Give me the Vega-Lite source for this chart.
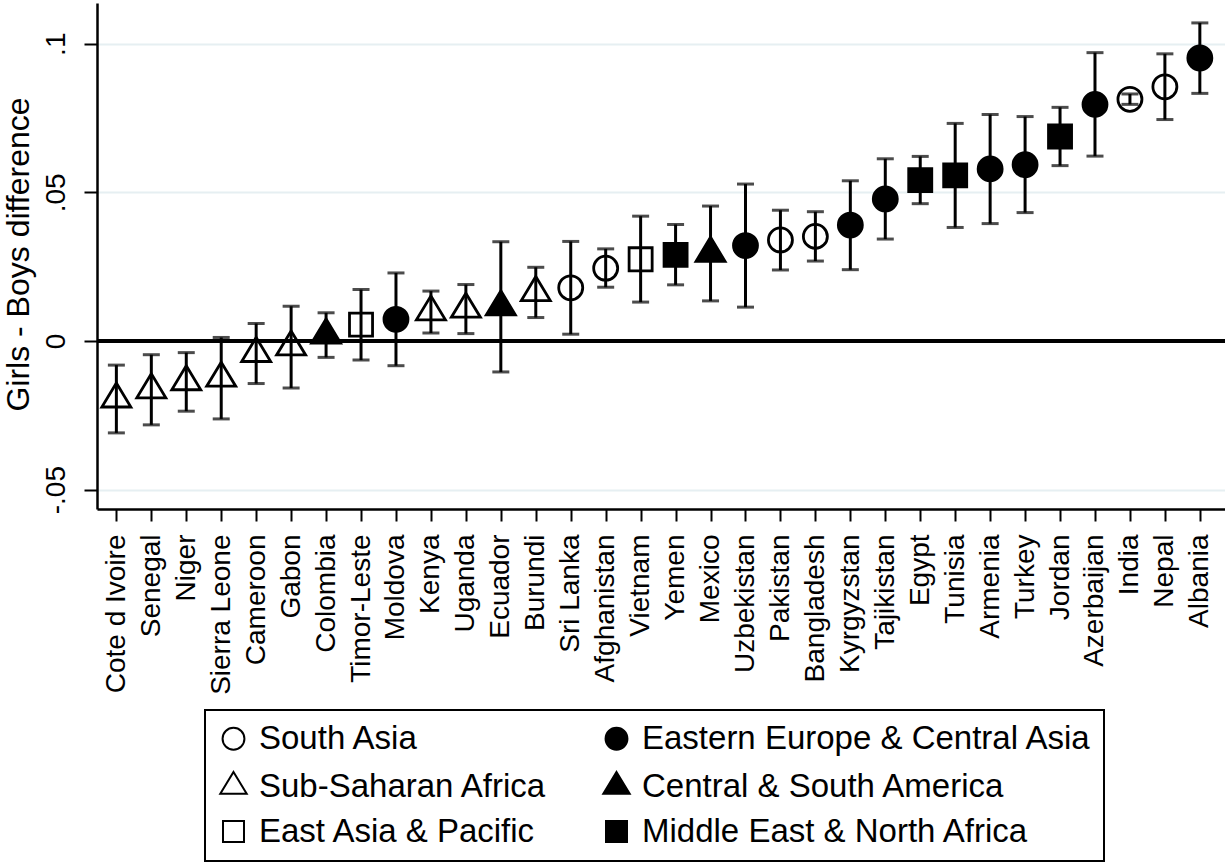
{
  "$schema": "https://vega.github.io/schema/vega-lite/v6.json",
  "autosize": {"type": "none"},
  "padding": {"left": 97, "top": 3, "right": 0, "bottom": 354},
  "width": 1128,
  "height": 506,
  "background": "white",
  "config": {
    "font": "Liberation Sans",
    "view": {"stroke": null},
    "axis": {
      "domainColor": "black",
      "domainWidth": 2.5,
      "tickColor": "black",
      "tickWidth": 2,
      "labelColor": "black",
      "titleColor": "black",
      "labelFont": "Liberation Sans",
      "titleFont": "Liberation Sans",
      "titleFontWeight": "normal"
    }
  },
  "data": {
    "values": [
      {"country": "Cote d Ivoire", "region": "Sub-Saharan Africa", "est": -0.0195, "lo": -0.0309, "hi": -0.0081},
      {"country": "Senegal", "region": "Sub-Saharan Africa", "est": -0.0164, "lo": -0.0282, "hi": -0.0046},
      {"country": "Niger", "region": "Sub-Saharan Africa", "est": -0.0137, "lo": -0.0236, "hi": -0.0039},
      {"country": "Sierra Leone", "region": "Sub-Saharan Africa", "est": -0.0125, "lo": -0.0262, "hi": 0.0012},
      {"country": "Cameroon", "region": "Sub-Saharan Africa", "est": -0.0042, "lo": -0.0143, "hi": 0.0059},
      {"country": "Gabon", "region": "Sub-Saharan Africa", "est": -0.0020, "lo": -0.0158, "hi": 0.0117},
      {"country": "Colombia", "region": "Central & South America", "est": 0.0020, "lo": -0.0055, "hi": 0.0095},
      {"country": "Timor-Leste", "region": "East Asia & Pacific", "est": 0.0055, "lo": -0.0064, "hi": 0.0173},
      {"country": "Moldova", "region": "Eastern Europe & Central Asia", "est": 0.0073, "lo": -0.0083, "hi": 0.0229},
      {"country": "Kenya", "region": "Sub-Saharan Africa", "est": 0.0098, "lo": 0.0027, "hi": 0.0168},
      {"country": "Uganda", "region": "Sub-Saharan Africa", "est": 0.0107, "lo": 0.0025, "hi": 0.0190},
      {"country": "Ecuador", "region": "Central & South America", "est": 0.0115, "lo": -0.0104, "hi": 0.0334},
      {"country": "Burundi", "region": "Sub-Saharan Africa", "est": 0.0163, "lo": 0.0079, "hi": 0.0248},
      {"country": "Sri Lanka", "region": "South Asia", "est": 0.0179, "lo": 0.0023, "hi": 0.0335},
      {"country": "Afghanistan", "region": "South Asia", "est": 0.0245, "lo": 0.0181, "hi": 0.0310},
      {"country": "Vietnam", "region": "East Asia & Pacific", "est": 0.0275, "lo": 0.0131, "hi": 0.0420},
      {"country": "Yemen", "region": "Middle East & North Africa", "est": 0.0290, "lo": 0.0189, "hi": 0.0392},
      {"country": "Mexico", "region": "Central & South America", "est": 0.0295, "lo": 0.0135, "hi": 0.0454},
      {"country": "Uzbekistan", "region": "Eastern Europe & Central Asia", "est": 0.0321, "lo": 0.0114, "hi": 0.0528},
      {"country": "Pakistan", "region": "South Asia", "est": 0.0340, "lo": 0.0239, "hi": 0.0440},
      {"country": "Bangladesh", "region": "South Asia", "est": 0.0352, "lo": 0.0269, "hi": 0.0435},
      {"country": "Kyrgyzstan", "region": "Eastern Europe & Central Asia", "est": 0.0390, "lo": 0.0240, "hi": 0.0539},
      {"country": "Tajikistan", "region": "Eastern Europe & Central Asia", "est": 0.0478, "lo": 0.0343, "hi": 0.0613},
      {"country": "Egypt", "region": "Middle East & North Africa", "est": 0.0541, "lo": 0.0462, "hi": 0.0621},
      {"country": "Tunisia", "region": "Middle East & North Africa", "est": 0.0557, "lo": 0.0382, "hi": 0.0732},
      {"country": "Armenia", "region": "Eastern Europe & Central Asia", "est": 0.0579, "lo": 0.0395, "hi": 0.0762},
      {"country": "Turkey", "region": "Eastern Europe & Central Asia", "est": 0.0593, "lo": 0.0432, "hi": 0.0755},
      {"country": "Jordan", "region": "Middle East & North Africa", "est": 0.0688, "lo": 0.0590, "hi": 0.0786},
      {"country": "Azerbaijan", "region": "Eastern Europe & Central Asia", "est": 0.0796, "lo": 0.0622, "hi": 0.0970},
      {"country": "India", "region": "South Asia", "est": 0.0813, "lo": 0.0796, "hi": 0.0831},
      {"country": "Nepal", "region": "South Asia", "est": 0.0855, "lo": 0.0745, "hi": 0.0966},
      {"country": "Albania", "region": "Eastern Europe & Central Asia", "est": 0.0952, "lo": 0.0833, "hi": 0.1070}
    ]
  },
  "encoding": {
    "x": {
      "field": "country",
      "type": "nominal",
      "sort": null,
      "scale": {"type": "point", "padding": 0.637, "align": 0.435},
      "axis": {
        "title": null,
        "labelAngle": -90,
        "labelAlign": "right",
        "labelBaseline": "middle",
        "labelFontSize": 28,
        "labelPadding": 13,
        "tickSize": 12,
        "labelOverlap": false,
        "grid": false
      }
    }
  },
  "layer": [
    {
      "mark": {"type": "rule", "color": "black", "strokeWidth": 2.5},
      "encoding": {
        "x": null,
        "y": {
          "datum": 0,
          "type": "quantitative",
          "title": "Girls - Boys difference",
          "scale": {"domain": [-0.0565, 0.1137], "nice": false, "zero": false},
          "axis": {
            "values": [-0.05, 0, 0.05, 0.1],
            "labelExpr": "replace(toString(datum.value), '0.', '.')",
            "labelAngle": -90,
            "labelAlign": "center",
            "labelBaseline": "alphabetic",
            "labelFontSize": 28,
            "labelPadding": 20,
            "tickSize": 13,
            "grid": true,
            "gridColor": "#e6eff2",
            "gridWidth": 2,
            "titleFontSize": 32,
            "titleAngle": -90,
            "titleAlign": "center",
            "titleBaseline": "alphabetic",
            "titleX": -69,
            "titleY": 251
          }
        }
      }
    },
    {
      "mark": {"type": "rule", "color": "black", "strokeWidth": 3},
      "encoding": {
        "y": {"field": "lo", "type": "quantitative", "title": "Girls - Boys difference", "scale": {"domain": [-0.0565, 0.1137], "nice": false, "zero": false}},
        "y2": {"field": "hi"}
      }
    },
    {
      "mark": {"type": "tick", "color": "black", "size": 17, "thickness": 3, "orient": "horizontal"},
      "encoding": {
        "y": {"field": "lo", "type": "quantitative", "title": "Girls - Boys difference", "scale": {"domain": [-0.0565, 0.1137], "nice": false, "zero": false}}
      }
    },
    {
      "mark": {"type": "tick", "color": "black", "size": 17, "thickness": 3, "orient": "horizontal"},
      "encoding": {
        "y": {"field": "hi", "type": "quantitative", "title": "Girls - Boys difference", "scale": {"domain": [-0.0565, 0.1137], "nice": false, "zero": false}}
      }
    },
    {
      "mark": {"type": "point", "stroke": "black", "strokeWidth": 2.8, "opacity": 1, "size": 1024, "strokeJoin": "miter"},
      "encoding": {
        "y": {"field": "est", "type": "quantitative", "title": "Girls - Boys difference", "scale": {"domain": [-0.0565, 0.1137], "nice": false, "zero": false}},
        "shape": {
          "field": "region",
          "type": "nominal",
          "scale": {
            "domain": ["South Asia", "Sub-Saharan Africa", "East Asia & Pacific", "Eastern Europe & Central Asia", "Central & South America", "Middle East & North Africa"],
            "range": [
              "M-0.75,0A0.75,0.75,0,1,0,0.75,0A0.75,0.75,0,1,0,-0.75,0Z",
              "M0,-1L0.906,0.5L-0.906,0.5Z",
              "M-0.72,-0.72L0.72,-0.72L0.72,0.72L-0.72,0.72Z",
              "M-0.75,0A0.75,0.75,0,1,0,0.75,0A0.75,0.75,0,1,0,-0.75,0Z",
              "M0,-1L0.906,0.5L-0.906,0.5Z",
              "M-0.72,-0.72L0.72,-0.72L0.72,0.72L-0.72,0.72Z"
            ]
          },
          "legend": {
            "title": null,
            "orient": "none",
            "legendX": 108,
            "legendY": 707,
            "columns": 2,
            "columnPadding": 52,
            "rowPadding": 11,
            "padding": 12,
            "strokeColor": "black",
            "labelFontSize": 33,
            "labelFont": "Liberation Sans",
            "labelColor": "black",
            "labelOffset": 9,
            "labelLimit": 600,
            "symbolSize": 850,
            "symbolStrokeColor": "black",
            "symbolStrokeWidth": 2,
            "symbolOpacity": 1,
            "encode": {"legend": {"update": {"strokeWidth": {"value": 2}}}}
          }
        },
        "fill": {
          "field": "region",
          "type": "nominal",
          "scale": {
            "domain": ["South Asia", "Sub-Saharan Africa", "East Asia & Pacific", "Eastern Europe & Central Asia", "Central & South America", "Middle East & North Africa"],
            "range": ["transparent", "transparent", "transparent", "black", "black", "black"]
          },
          "legend": {
            "title": null,
            "orient": "none",
            "legendX": 108,
            "legendY": 707,
            "columns": 2,
            "columnPadding": 52,
            "rowPadding": 11,
            "padding": 12,
            "strokeColor": "black",
            "labelFontSize": 33,
            "labelFont": "Liberation Sans",
            "labelColor": "black",
            "labelOffset": 9,
            "labelLimit": 600,
            "symbolSize": 850,
            "symbolStrokeColor": "black",
            "symbolStrokeWidth": 2,
            "symbolOpacity": 1,
            "encode": {"legend": {"update": {"strokeWidth": {"value": 2}}}}
          }
        }
      }
    }
  ]
}
